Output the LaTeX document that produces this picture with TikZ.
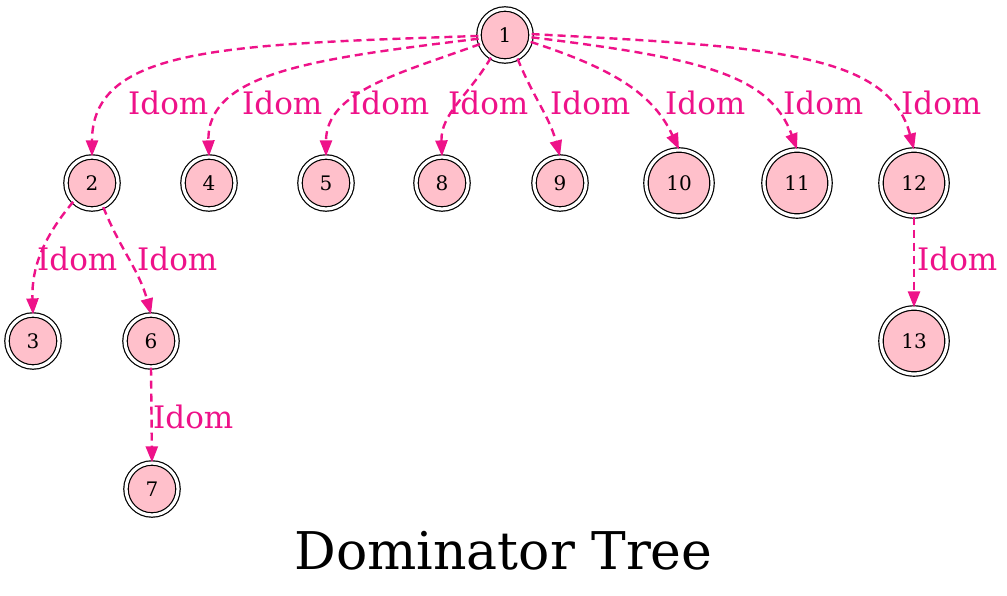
\documentclass[tikz,border=0pt]{standalone}
\usepackage{fontspec}
\setmainfont{DejaVu Serif}
\usetikzlibrary{arrows.meta}
\definecolor{idomcol}{HTML}{EE1289}
\definecolor{nodefill}{HTML}{FFC0CB}
\tikzset{
  vert/.style={circle, draw, line width=1.2pt, double, double distance=3.2pt,
    fill=nodefill, minimum size=52pt, inner sep=0pt, font=\fontsize{20}{22}\selectfont},
  bigvert/.style={vert, minimum size=66pt},
  idomedge/.style={idomcol, line width=2.4pt, dash pattern=on 8pt off 5pt,
    -{Triangle[length=16pt,width=12pt]}},
  idom/.style={text=idomcol, anchor=base west, inner sep=0pt, font=\fontsize{31}{33}\selectfont}
}
\begin{document}
\begin{tikzpicture}[x=1pt,y=-1pt]
        \useasboundingbox (0,0) rectangle (1007,596);

        % Root of the tree
        \node[vert] (n1) at (505,35) {1};

        % Children of 1
        \node[vert] (n2) at (92,183) {2};
        \node[vert] (n4) at (209,183) {4};
        \node[vert] (n5) at (326,183) {5};
        \node[vert] (n8) at (442,183) {8};
        \node[vert] (n9) at (560,183) {9};
        \node[bigvert] (n10) at (679,183) {10};
        \node[bigvert] (n11) at (797,183) {11};
        \node[bigvert] (n12) at (914,183) {12};

        % Lower levels
        \node[vert] (n3) at (33,341) {3};
        \node[vert] (n6) at (151,341) {6};
        \node[bigvert] (n13) at (914,341) {13};
        \node[vert] (n7) at (152,489) {7};

        % Edges from 1
        \draw[idomedge] (n1.182) to[out=182,in=90,out distance=250pt,in distance=110pt] (n2.north);
        \draw[idomedge] (n1.188) to[out=187,in=92,out distance=160pt,in distance=85pt] (n4.north);
        \draw[idomedge] (n1.200) to[out=200,in=90,out distance=85pt,in distance=65pt] (n5.north);
        \draw[idomedge] (n1.238) to[out=240,in=92] (n8.north);
        \draw[idomedge] (n1.298) to[out=-68,in=105] (n9.north);
        \draw[idomedge] (n1.345) to[out=-18,in=115,out distance=90pt,in distance=60pt] (n10.north);
        \draw[idomedge] (n1.355) to[out=-7,in=110,out distance=170pt,in distance=80pt] (n11.north);
        \draw[idomedge] (n1.2) to[out=-3,in=105,out distance=240pt,in distance=100pt] (n12.north);

        % Edges below
        \draw[idomedge] (n2.225) to[out=230,in=92] (n3.north);
        \draw[idomedge] (n2.-65) to[out=-68,in=105] (n6.north);
        \draw[idomedge] (n6.south) -- (n7.north);
        \draw[idomedge] (n12.south) -- (n13.north);

        % Edge labels
        \node[idom] (l2) at (128,115) {Idom};
        \node[idom] (l4) at (242,115) {Idom};
        \node[idom] (l5) at (349,115) {Idom};
        \node[idom] (l8) at (448,115) {Idom};
        \node[idom] (l9) at (550,115) {Idom};
        \node[idom] (l10) at (665,115) {Idom};
        \node[idom] (l11) at (783,115) {Idom};
        \node[idom] (l12) at (901,115) {Idom};
        \node[idom] (l3) at (37,270) {Idom};
        \node[idom] (l6) at (137,270) {Idom};
        \node[idom] (l13) at (917,270) {Idom};
        \node[idom] (l7) at (153,428) {Idom};

        % Caption
        \node[anchor=base, inner sep=0pt, font=\fontsize{52}{56}\selectfont] (title) at (503.5,569) {Dominator Tree};
    \end{tikzpicture}
\end{document}
